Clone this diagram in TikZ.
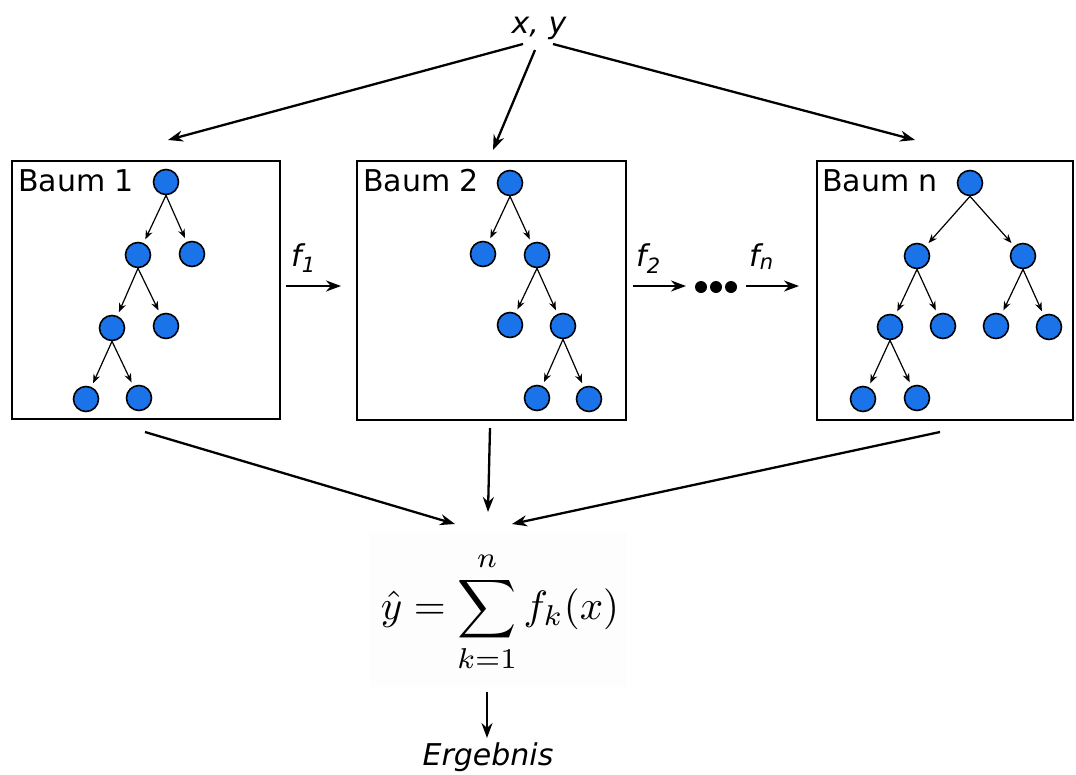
\documentclass[tikz,border=0pt]{standalone}
\usepackage[no-math]{fontspec}
\setmainfont{DejaVu Sans}
\usepackage{graphicx}
\usetikzlibrary{arrows.meta}
\definecolor{nodeblue}{RGB}{26,115,232}
\begin{document}
\begin{tikzpicture}[x=1pt,y=-1pt,
  txt/.style={font=\fontsize{30}{36}\selectfont, inner sep=0pt},
  box/.style={draw, line width=2.5pt, inner sep=0pt},
  tn/.style={circle, draw, line width=1.6pt, fill=nodeblue, minimum size=25pt, inner sep=0pt},
  te/.style={-{Stealth[length=9pt,width=7pt]}, line width=1.2pt, shorten >=4pt},
  big/.style={-{Stealth[length=15pt,width=11pt]}, line width=2.3pt},
  dotn/.style={circle, fill=black, minimum size=12pt, inner sep=0pt}
]
\useasboundingbox (0,0) rectangle (1076,774);

% boxes
\node[box, minimum width=268pt, minimum height=258pt] (b1) at (146,290) {};
\node[box, minimum width=269pt, minimum height=259pt] (b2) at (491.5,290.5) {};
\node[box, minimum width=256pt, minimum height=259pt] (bn) at (945,290.5) {};

\node[txt, anchor=base west] (l1) at (18,191) {Baum 1};
\node[txt, anchor=base west] (l2) at (363,191) {Baum 2};
\node[txt, anchor=base west] (ln) at (822,191) {Baum n};

% tree 1
\node[tn] (a1) at (166,182) {};
\node[tn] (a2) at (138,255) {};
\node[tn] (a3) at (192,254) {};
\node[tn] (a4) at (112,328) {};
\node[tn] (a5) at (166,326) {};
\node[tn] (a6) at (86,399) {};
\node[tn] (a7) at (139,398) {};
\draw[te] (a1.south) -- (a2);
\draw[te] (a1.south) -- (a3);
\draw[te] (a2.south) -- (a4);
\draw[te] (a2.south) -- (a5);
\draw[te] (a4.south) -- (a6);
\draw[te] (a4.south) -- (a7);

% tree 2
\node[tn] (c1) at (510,183) {};
\node[tn] (c2) at (483,254) {};
\node[tn] (c3) at (537,255) {};
\node[tn] (c4) at (510,325) {};
\node[tn] (c5) at (563,326) {};
\node[tn] (c6) at (537,398) {};
\node[tn] (c7) at (589,399) {};
\draw[te] (c1.south) -- (c2);
\draw[te] (c1.south) -- (c3);
\draw[te] (c3.south) -- (c4);
\draw[te] (c3.south) -- (c5);
\draw[te] (c5.south) -- (c6);
\draw[te] (c5.south) -- (c7);

% tree n
\node[tn] (d1) at (970,183) {};
\node[tn] (d2) at (917,256) {};
\node[tn] (d3) at (1023,256) {};
\node[tn] (d4) at (890,327) {};
\node[tn] (d5) at (943,326) {};
\node[tn] (d6) at (996,326) {};
\node[tn] (d7) at (1049,327) {};
\node[tn] (d8) at (863,399) {};
\node[tn] (d9) at (917,398) {};
\draw[te] (d1.south) -- (d2);
\draw[te] (d1.south) -- (d3);
\draw[te] (d2.south) -- (d4);
\draw[te] (d2.south) -- (d5);
\draw[te] (d3.south) -- (d6);
\draw[te] (d3.south) -- (d7);
\draw[te] (d4.south) -- (d8);
\draw[te] (d4.south) -- (d9);

% top input
\node[txt, anchor=base] (xy) at (539,33) {\itshape x, y};
\coordinate (s1) at (523,44);
\coordinate (s2) at (535,50);
\coordinate (s3) at (553,44);
\coordinate (t1) at (168,140);
\coordinate (t2) at (493,150);
\coordinate (t3) at (915,140);
\draw[big] (s1) -- (t1);
\draw[big] (s2) -- (t2);
\draw[big] (s3) -- (t3);

% sequence arrows
\coordinate (h1) at (286,286);
\coordinate (h2) at (341,286);
\coordinate (h3) at (633,286);
\coordinate (h4) at (686,286);
\coordinate (h5) at (746,286);
\coordinate (h6) at (799,286);
\draw[big] (h1) -- (h2);
\draw[big] (h3) -- (h4);
\draw[big] (h5) -- (h6);
\node[dotn] (p1) at (701,287) {};
\node[dotn] (p2) at (716,287) {};
\node[dotn] (p3) at (731,287) {};
\node[txt, anchor=base west] (f1) at (291,266) {\itshape f\textsubscript{1}};
\node[txt, anchor=base west] (f2) at (636,266) {\itshape f\textsubscript{2}};
\node[txt, anchor=base west] (fn) at (749,266) {\itshape f\textsubscript{n}};

% bottom arrows
\coordinate (u1) at (145,432);
\coordinate (u2) at (490,428);
\coordinate (u3) at (940,432);
\coordinate (v1) at (455,524);
\coordinate (v2) at (488,512);
\coordinate (v3) at (512,524);
\draw[big] (u1) -- (v1);
\draw[big] (u2) -- (v2);
\draw[big] (u3) -- (v3);

% formula
\fill[black!0.6] (370,533) rectangle (627,687);
\node[inner sep=0pt] (sum) at (500,612)
  {\scalebox{4.1}{$\displaystyle \hat{y} = \sum_{k=1}^{n} f_k(x)$}};

\coordinate (e1) at (487,692);
\coordinate (e2) at (487,738);
\draw[big] (e1) -- (e2);
\node[txt, anchor=base] (erg) at (488,765) {\itshape Ergebnis};
\end{tikzpicture}
\end{document}
